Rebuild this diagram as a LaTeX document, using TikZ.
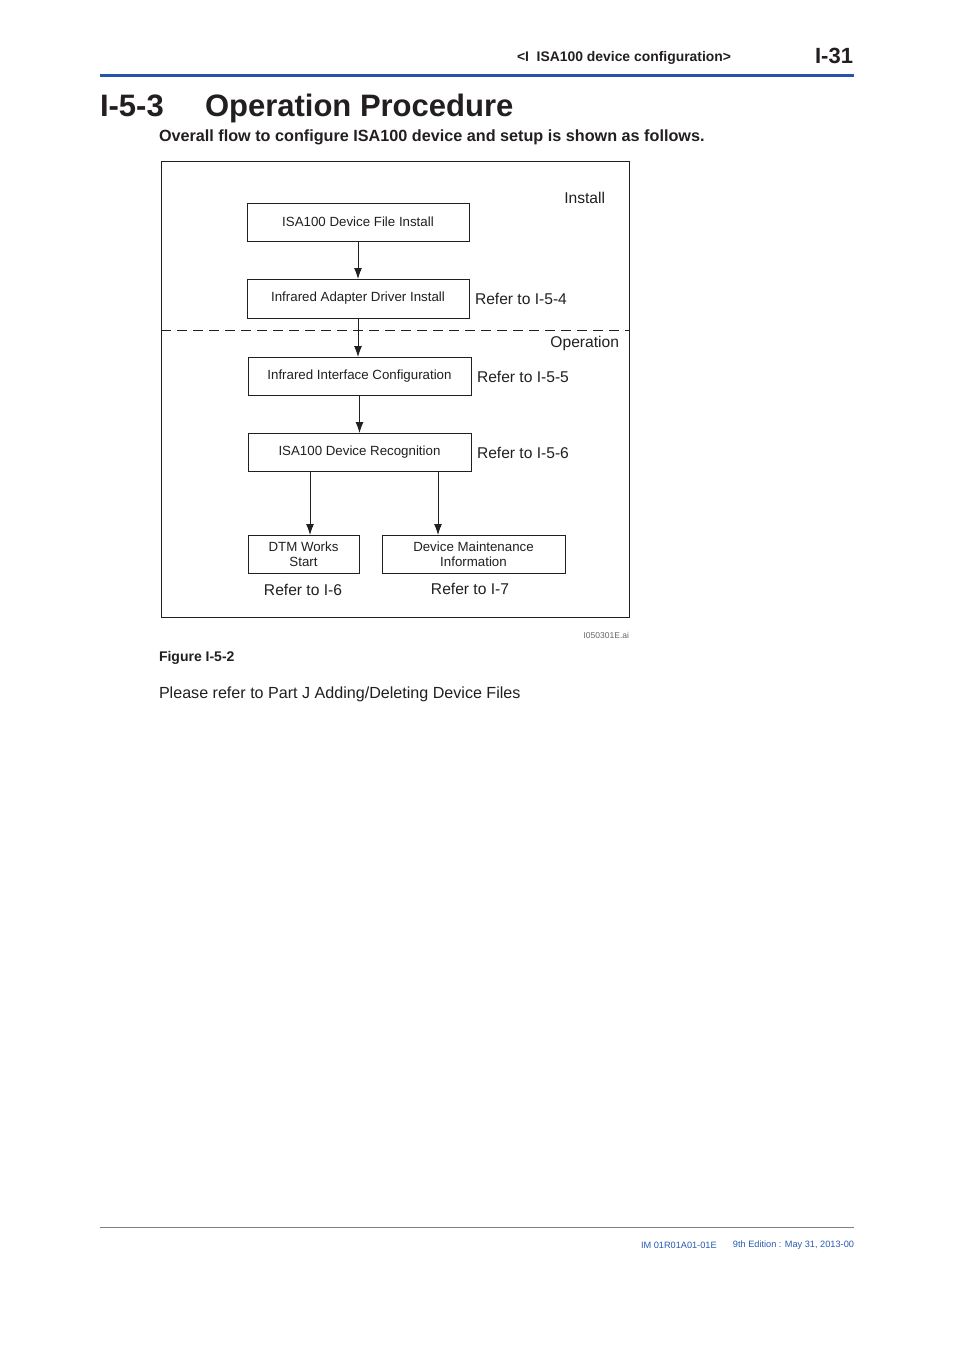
\documentclass[tikz,border=0pt]{standalone}
\usepackage{fontspec}
\setmainfont{Liberation Sans}
\usetikzlibrary{arrows.meta}
\definecolor{ink}{RGB}{35,31,32}
\definecolor{hdrblue}{RGB}{38,84,170}
\definecolor{footblue}{RGB}{40,90,180}
\tikzset{
  x=1pt, y=-1pt,
  every node/.style={inner sep=0pt, outer sep=0pt, text=ink},
  flowbox/.style={draw=ink, line width=0.9pt, rectangle, font=\fontsize{13.3}{15.5}\selectfont, align=center},
  note/.style={font=\fontsize{15.6}{18}\selectfont},
  flowarrow/.style={draw=ink, line width=0.9pt, -{Latex[length=11pt,width=8pt]}},
}
\begin{document}
\begin{tikzpicture}
\useasboundingbox[fill=white] (0,0) rectangle (954,1350);
% header
\node[anchor=east, font=\bfseries\fontsize{13.9}{16}\selectfont] (hdr) at (731,58) {<I\ \ ISA100 device configuration>};
\node[anchor=east, font=\bfseries\fontsize{22}{24}\selectfont] (pg) at (853,56) {I-31};
\draw[hdrblue, line width=3pt] (100,75) -- (854,75);
% title
\node[anchor=base west, font=\bfseries\fontsize{31}{34}\selectfont] (num) at (100,116.5) {I-5-3};
\node[anchor=base west, font=\bfseries\fontsize{31}{34}\selectfont] (ttl) at (205,116.5) {Operation Procedure};
\node[anchor=west, font=\bfseries\fontsize{16.2}{18}\selectfont] (sub) at (159,137) {Overall flow to configure ISA100 device and setup is shown as follows.};
% frame
\draw[ink, line width=0.9pt] (161,161) rectangle (629,617);
\draw[ink, line width=0.9pt, dash pattern=on 10pt off 6pt] (161,330) -- (629,330);
% boxes
\node[flowbox, minimum width=222pt, minimum height=38pt] (b1) at (358,222) {ISA100 Device File Install};
\node[flowbox, minimum width=222pt, minimum height=39pt] (b2) at (358,298.5) {Infrared Adapter Driver Install};
\node[flowbox, minimum width=223pt, minimum height=38pt] (b3) at (359.5,376) {Infrared Interface Configuration};
\node[flowbox, minimum width=223pt, minimum height=38pt] (b4) at (359.5,452) {ISA100 Device Recognition};
\node[flowbox, minimum width=111pt, minimum height=38pt] (b5) at (303.5,554) {DTM Works\\Start};
\node[flowbox, minimum width=183pt, minimum height=38pt] (b6) at (473.5,554) {Device Maintenance\\Information};
% arrows
\draw[flowarrow] (b1.south) -- (b2.north);
\draw[flowarrow] (b2.south) -- (b3.north -| b2.south);
\draw[flowarrow] (b3.south) -- (b4.north);
\draw[flowarrow] (b4.south -| b5.north) ++(6.5,0) coordinate (s5) -- (s5 |- b5.north);
\draw[flowarrow] (b4.south -| b6.north) ++(-35.5,0) coordinate (s6) -- (s6 |- b6.north);
% labels
\node[note, anchor=east] (linst) at (605,198) {Install};
\node[note, anchor=west] (r54) at (475,299) {Refer to I-5-4};
\node[note, anchor=east] (lop) at (619,343) {Operation};
\node[note, anchor=west] (r55) at (477,377) {Refer to I-5-5};
\node[note, anchor=west] (r56) at (477,453) {Refer to I-5-6};
\node[note] (r6) at (303,590) {Refer to I-6};
\node[note] (r7) at (470,589) {Refer to I-7};
\node[anchor=east, font=\fontsize{8.5}{9}\selectfont, text=gray!80!black] (fig) at (629,635) {I050301E.ai};
% caption
\node[anchor=west, font=\bfseries\fontsize{14}{16}\selectfont] (cap) at (159,658) {Figure I-5-2};
\node[anchor=west, font=\fontsize{16.1}{19}\selectfont] (txt) at (159,694) {Please refer to Part J Adding/Deleting Device Files};
% footer
\draw[gray, line width=0.6pt] (100,1227) -- (854,1227);
\node[anchor=west, font=\fontsize{9.2}{10}\selectfont, text=footblue] (f1) at (641,1245) {IM 01R01A01-01E};
\node[anchor=east, font=\fontsize{9.2}{10}\selectfont, text=footblue] (f2) at (854,1245) {9th Edition : May 31, 2013-00};
\end{tikzpicture}
\end{document}
